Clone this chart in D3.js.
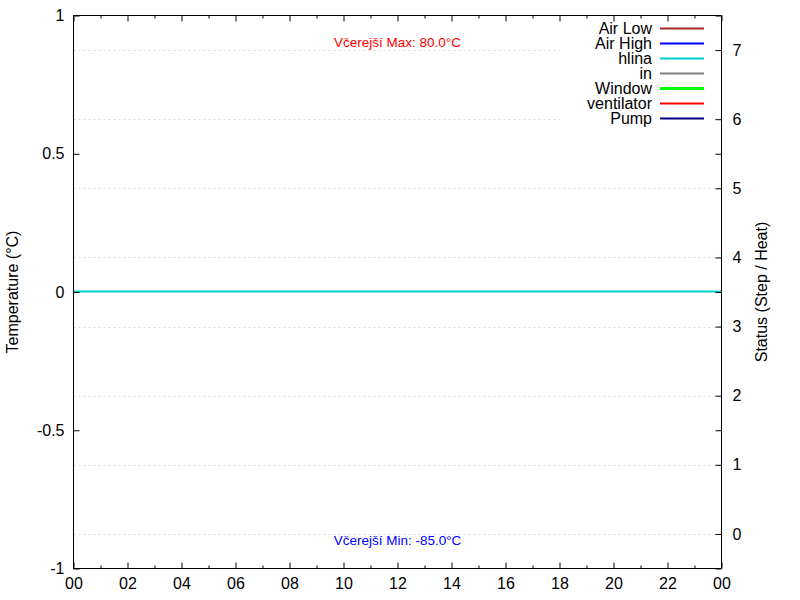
<!DOCTYPE html>
<html>
<head>
<meta charset="utf-8">
<script src="https://cdn.jsdelivr.net/npm/d3@7"></script>
<style>
  body { margin: 0; background: #fff; }
  svg { font-family: "Liberation Sans", Arial, sans-serif; }
</style>
</head>
<body>
<div id="chart"></div>
<script>
// data
const hours = [0, 6, 12, 18, 24];
const hlinaValues = [0, 0, 0, 0, 0];
const xTicks = [0, 2, 4, 6, 8, 10, 12, 14, 16, 18, 20, 22, 24];
const xMinor = [1, 3, 5, 7, 9, 11, 13, 15, 17, 19, 21, 23];
const yTicks = [-1, -0.5, 0, 0.5, 1];
const y2Ticks = [0, 1, 2, 3, 4, 5, 6, 7];
const seriesNames = ['Air Low', 'Air High', 'hlina', 'in', 'Window', 'ventilator', 'Pump'];
const seriesColors = ['#a52a2a', '#0000ff', '#00ced1', '#808080', '#00ff00', '#ff0000', '#000080'];
const seriesWidths = [2, 2, 2, 2, 3, 2, 2];
const maxLabel = 'Včerejší Max: 80.0°C';
const minLabel = 'Včerejší Min: -85.0°C';

const W = 800, H = 600;
const plotLeft = 73.5, plotRight = 721.5, plotTop = 15.5, plotBottom = 568.5;
const fs = 16;

const svg = d3.select('#chart').append('svg')
  .attr('width', W).attr('height', H);

const x = d3.scaleLinear().domain([0, 24]).range([plotLeft, plotRight]);
const y = d3.scaleLinear().domain([-1, 1]).range([plotBottom, plotTop]);
const y2 = d3.scaleLinear().domain([-0.5, 7.5]).range([plotBottom, plotTop]);

// grid (from y2 ticks)
svg.append('g').selectAll('line')
  .data(y2Ticks).enter().append('line')
  .attr('x1', plotLeft).attr('x2', plotRight)
  .attr('y1', d => Math.round(y2(d)) + 0.5)
  .attr('y2', d => Math.round(y2(d)) + 0.5)
  .attr('stroke', '#dcdcdc')
  .attr('stroke-dasharray', '2,3');

// data line
const line = d3.line()
  .x((d, i) => x(hours[i]))
  .y(d => Math.round(y(d)) - 0.5);
svg.append('path')
  .datum(hlinaValues)
  .attr('d', line)
  .attr('fill', 'none')
  .attr('stroke', seriesColors[2])
  .attr('stroke-width', 2);

// annotations
svg.append('text')
  .attr('x', x(12)).attr('y', plotTop + (plotBottom - plotTop) * 0.05 - 1)
  .attr('dy', '0.35em')
  .attr('text-anchor', 'middle')
  .attr('font-size', 13.5)
  .attr('fill', '#ff0000')
  .text(maxLabel);
svg.append('text')
  .attr('x', x(12)).attr('y', plotBottom - (plotBottom - plotTop) * 0.05 - 1)
  .attr('dy', '0.35em')
  .attr('text-anchor', 'middle')
  .attr('font-size', 13.5)
  .attr('fill', '#0000ff')
  .text(minLabel);

// key (opaque box)
svg.append('rect')
  .attr('x', 563).attr('y', plotTop + 1)
  .attr('width', 152).attr('height', 110)
  .attr('fill', '#fff');

const key = svg.append('g');
seriesNames.forEach((name, i) => {
  const ky = 28.5 + i * 15;
  key.append('text')
    .attr('x', 652).attr('y', ky)
    .attr('dy', '0.35em')
    .attr('text-anchor', 'end')
    .attr('font-size', fs)
    .text(name);
  key.append('line')
    .attr('x1', 660).attr('x2', 704)
    .attr('y1', ky).attr('y2', ky)
    .attr('stroke', seriesColors[i])
    .attr('stroke-width', seriesWidths[i]);
});

// axes with inward ticks
const axisStyle = g => {
  g.select('.domain').remove();
  g.selectAll('line').attr('stroke', '#000');
  g.selectAll('text').attr('font-size', fs).attr('fill', '#000');
};

svg.append('g')
  .attr('transform', `translate(0,${plotBottom})`)
  .call(d3.axisBottom(x).tickValues(xTicks)
    .tickFormat(d => d3.format('02d')(d % 24))
    .tickSizeInner(-6).tickPadding(9))
  .call(axisStyle);
svg.append('g')
  .attr('transform', `translate(0,${plotBottom})`)
  .call(d3.axisBottom(x).tickValues(xMinor).tickFormat('').tickSizeInner(-3))
  .call(axisStyle);
svg.append('g')
  .attr('transform', `translate(0,${plotTop})`)
  .call(d3.axisTop(x).tickValues(xTicks).tickFormat('').tickSizeInner(-6))
  .call(axisStyle);
svg.append('g')
  .attr('transform', `translate(0,${plotTop})`)
  .call(d3.axisTop(x).tickValues(xMinor).tickFormat('').tickSizeInner(-3))
  .call(axisStyle);

svg.append('g')
  .attr('transform', `translate(${plotLeft},0)`)
  .call(d3.axisLeft(y).tickValues(yTicks).tickFormat(d => String(d)).tickSizeInner(-6).tickPadding(9))
  .call(axisStyle);
svg.append('g')
  .attr('transform', `translate(${plotRight},0)`)
  .call(d3.axisRight(y).tickValues(yTicks).tickFormat('').tickSizeInner(-6))
  .call(axisStyle);
svg.append('g')
  .attr('transform', `translate(${plotRight},0)`)
  .call(d3.axisRight(y2).tickValues(y2Ticks).tickSizeInner(-6).tickPadding(11))
  .call(axisStyle);

// border
svg.append('rect')
  .attr('x', plotLeft).attr('y', plotTop)
  .attr('width', plotRight - plotLeft).attr('height', plotBottom - plotTop)
  .attr('fill', 'none').attr('stroke', '#000');

// axis titles
svg.append('text')
  .attr('transform', `translate(12,${(plotTop + plotBottom) / 2}) rotate(-90)`)
  .attr('text-anchor', 'middle')
  .attr('dy', '0.35em')
  .attr('font-size', fs)
  .text('Temperature (°C)');
svg.append('text')
  .attr('transform', `translate(761,${(plotTop + plotBottom) / 2}) rotate(-90)`)
  .attr('text-anchor', 'middle')
  .attr('dy', '0.35em')
  .attr('font-size', fs)
  .text('Status (Step / Heat)');
</script>
</body>
</html>
